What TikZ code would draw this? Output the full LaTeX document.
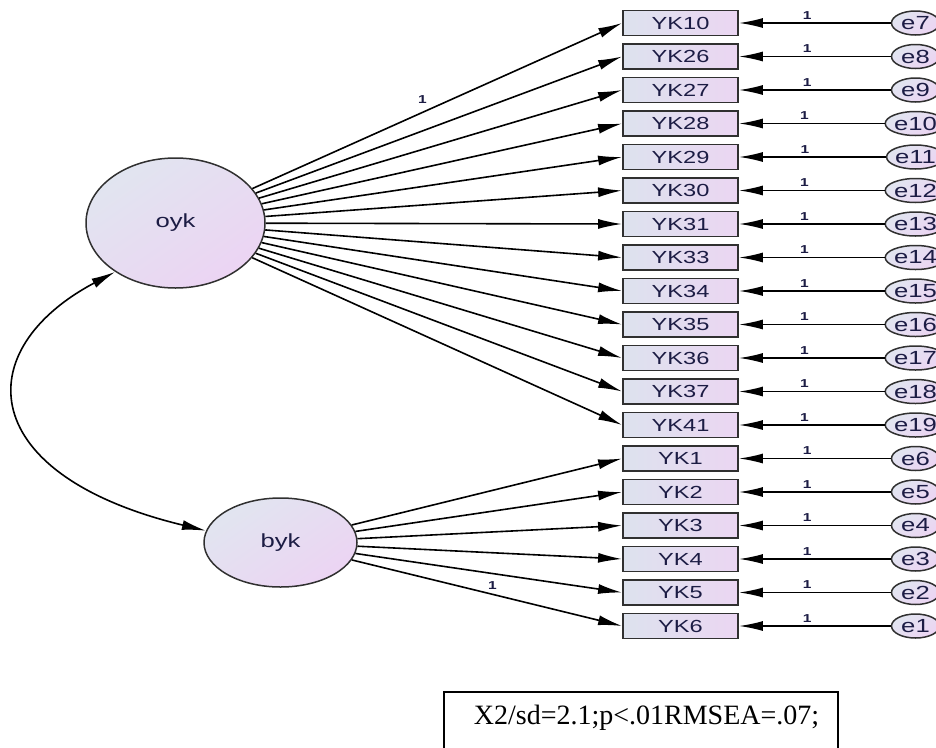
\documentclass[tikz,border=0pt]{standalone}
\usepackage{fontspec}
\setmainfont{Liberation Serif}
\newfontfamily\semfont[FakeStretch=1.35]{Liberation Sans}
\usetikzlibrary{shapes.geometric,arrows.meta}
\definecolor{boxL}{HTML}{DDE2EE}
\definecolor{boxR}{HTML}{EBD6F2}
\definecolor{latT}{HTML}{E1E5F0}
\definecolor{latB}{HTML}{ECD4F3}
\definecolor{semtext}{HTML}{1C1C44}
\definecolor{rim}{HTML}{303030}
\tikzset{
  obs/.style={draw=rim,line width=1.8pt,left color=boxL,right color=boxR,minimum width=115pt,minimum height=25pt,inner sep=0pt,text=semtext,font=\semfont\fontsize{17.5}{18}\selectfont},
  err/.style={ellipse,draw=rim,line width=1.5pt,top color=latT,bottom color=latB,shading angle=35,minimum width=48pt,minimum height=24pt,inner sep=0pt,text=semtext,font=\semfont\fontsize{19}{20}\selectfont},
  lat/.style={ellipse,draw=rim,line width=1.5pt,top color=latT,bottom color=latB,shading angle=35,inner sep=0pt,text=semtext,font=\semfont\fontsize{19}{20}\selectfont},
  arr/.style={line width=1.6pt,-{Latex[length=24pt,width=10pt]}},
  one/.style={inner sep=1pt,text=semtext,font=\semfont\bfseries\fontsize{11.5}{12}\selectfont}
}

\begin{document}
\begin{tikzpicture}[x=1pt,y=-1pt]
\clip (0,0) rectangle (936,747);
\node[lat,minimum width=179pt,minimum height=130pt] (oyk) at (175.5,223) {oyk};
\node[lat,minimum width=153pt,minimum height=89pt] (byk) at (280.5,542.5) {byk};
\node[obs] (yk10) at (680.5,23) {YK10};
\node[obs] (yk26) at (680.5,56.5) {YK26};
\node[obs] (yk27) at (680.5,90) {YK27};
\node[obs] (yk28) at (680.5,123.5) {YK28};
\node[obs] (yk29) at (680.5,157) {YK29};
\node[obs] (yk30) at (680.5,190.5) {YK30};
\node[obs] (yk31) at (680.5,224) {YK31};
\node[obs] (yk33) at (680.5,257.5) {YK33};
\node[obs] (yk34) at (680.5,291) {YK34};
\node[obs] (yk35) at (680.5,324.5) {YK35};
\node[obs] (yk36) at (680.5,358) {YK36};
\node[obs] (yk37) at (680.5,391.5) {YK37};
\node[obs] (yk41) at (680.5,425) {YK41};
\node[obs] (yk1) at (680.5,458.5) {YK1};
\node[obs] (yk2) at (680.5,492) {YK2};
\node[obs] (yk3) at (680.5,525.5) {YK3};
\node[obs] (yk4) at (680.5,559) {YK4};
\node[obs] (yk5) at (680.5,592.5) {YK5};
\node[obs] (yk6) at (680.5,626) {YK6};
\node[err] (e7) at (915.5,23) {e7};
\node[err] (e8) at (915.5,56.5) {e8};
\node[err] (e9) at (915.5,90) {e9};
\node[err] (e10) at (915.5,123.5) {e10};
\node[err] (e11) at (915.5,157) {e11};
\node[err] (e12) at (915.5,190.5) {e12};
\node[err] (e13) at (915.5,224) {e13};
\node[err] (e14) at (915.5,257.5) {e14};
\node[err] (e15) at (915.5,291) {e15};
\node[err] (e16) at (915.5,324.5) {e16};
\node[err] (e17) at (915.5,358) {e17};
\node[err] (e18) at (915.5,391.5) {e18};
\node[err] (e19) at (915.5,425) {e19};
\node[err] (e6) at (915.5,458.5) {e6};
\node[err] (e5) at (915.5,492) {e5};
\node[err] (e4) at (915.5,525.5) {e4};
\node[err] (e3) at (915.5,559) {e3};
\node[err] (e2) at (915.5,592.5) {e2};
\node[err] (e1) at (915.5,626) {e1};
\draw[arr] (oyk) -- node[one,pos=.46,above=7pt] (w10) {1} (yk10.west);
\draw[arr] (oyk) -- (yk26.west);
\draw[arr] (oyk) -- (yk27.west);
\draw[arr] (oyk) -- (yk28.west);
\draw[arr] (oyk) -- (yk29.west);
\draw[arr] (oyk) -- (yk30.west);
\draw[arr] (oyk) -- (yk31.west);
\draw[arr] (oyk) -- (yk33.west);
\draw[arr] (oyk) -- (yk34.west);
\draw[arr] (oyk) -- (yk35.west);
\draw[arr] (oyk) -- (yk36.west);
\draw[arr] (oyk) -- (yk37.west);
\draw[arr] (oyk) -- (yk41.west);
\draw[arr] (byk) -- (yk1.west);
\draw[arr] (byk) -- (yk2.west);
\draw[arr] (byk) -- (yk3.west);
\draw[arr] (byk) -- (yk4.west);
\draw[arr] (byk) -- (yk5.west);
\draw[arr] (byk) -- node[one,pos=.52,above=3pt] (w6) {1} (yk6.west);
\draw[arr] (e7) -- node[one,pos=.55,above=2pt] (l7) {1} (yk10);
\draw[arr] (e8) -- node[one,pos=.55,above=2pt] (l8) {1} (yk26);
\draw[arr] (e9) -- node[one,pos=.55,above=2pt] (l9) {1} (yk27);
\draw[arr] (e10) -- node[one,pos=.55,above=2pt] (l10) {1} (yk28);
\draw[arr] (e11) -- node[one,pos=.55,above=2pt] (l11) {1} (yk29);
\draw[arr] (e12) -- node[one,pos=.55,above=2pt] (l12) {1} (yk30);
\draw[arr] (e13) -- node[one,pos=.55,above=2pt] (l13) {1} (yk31);
\draw[arr] (e14) -- node[one,pos=.55,above=2pt] (l14) {1} (yk33);
\draw[arr] (e15) -- node[one,pos=.55,above=2pt] (l15) {1} (yk34);
\draw[arr] (e16) -- node[one,pos=.55,above=2pt] (l16) {1} (yk35);
\draw[arr] (e17) -- node[one,pos=.55,above=2pt] (l17) {1} (yk36);
\draw[arr] (e18) -- node[one,pos=.55,above=2pt] (l18) {1} (yk37);
\draw[arr] (e19) -- node[one,pos=.55,above=2pt] (l19) {1} (yk41);
\draw[arr] (e6) -- node[one,pos=.55,above=2pt] (l6) {1} (yk1);
\draw[arr] (e5) -- node[one,pos=.55,above=2pt] (l5) {1} (yk2);
\draw[arr] (e4) -- node[one,pos=.55,above=2pt] (l4) {1} (yk3);
\draw[arr] (e3) -- node[one,pos=.55,above=2pt] (l3) {1} (yk4);
\draw[arr] (e2) -- node[one,pos=.55,above=2pt] (l2) {1} (yk5);
\draw[arr] (e1) -- node[one,pos=.55,above=2pt] (l1) {1} (yk6);
\draw[line width=1.6pt,{Latex[length=24pt,width=10pt]}-{Latex[length=24pt,width=10pt]}] (oyk.219) .. controls (-32,350) and (-25,475) .. (byk.171);
\draw[line width=1.3pt] (444,692) rectangle (838,770);
\node[font=\fontsize{28}{30}\selectfont] (fitnote) at (646.5,718) {X2/sd=2.1;p<.01RMSEA=.07;};
\end{tikzpicture}
\end{document}
